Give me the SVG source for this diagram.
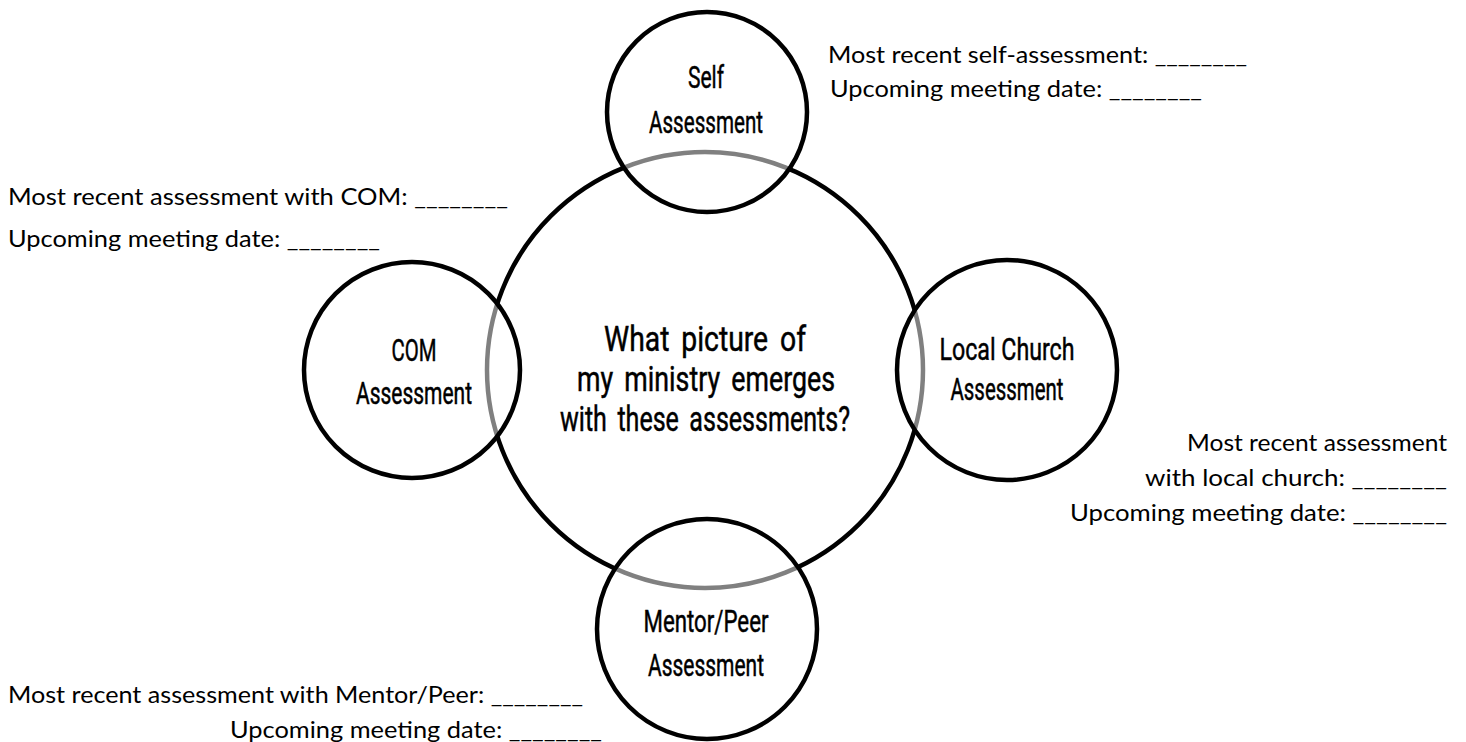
<svg xmlns="http://www.w3.org/2000/svg" width="1466" height="742" viewBox="0 0 1466 742">
<style>
.bg{fill:#ffffff}
.big{fill:none;stroke:#000;stroke-width:4.5}
.small{fill:#ffffff;fill-opacity:0.5;stroke:#000;stroke-width:4.5}
.ct{font-family:Roboto,"Liberation Sans",sans-serif;font-size:32px;font-weight:400;fill:#000;stroke:#000;stroke-width:0.5;text-anchor:middle}
.mt{font-family:Roboto,"Liberation Sans",sans-serif;font-size:35px;font-weight:400;fill:#000;stroke:#000;stroke-width:0.5;text-anchor:middle;word-spacing:6px}
.lb{font-family:Lato,"Open Sans","Liberation Sans",sans-serif;font-size:23px;fill:#000}
.r{text-anchor:end}
</style>
<rect class="bg" x="0" y="0" width="1466" height="742"/>
<g id="connectors"/>
<g id="center">
<circle class="big" cx="705" cy="370" r="218"/>
<text class="mt" x="705" y="351" textLength="202" lengthAdjust="spacingAndGlyphs">What picture of</text>
<text class="mt" x="706" y="391" textLength="258" lengthAdjust="spacingAndGlyphs">my ministry emerges</text>
<text class="mt" x="705" y="431" textLength="290" lengthAdjust="spacingAndGlyphs">with these assessments?</text>
</g>
<g id="self">
<circle class="small" cx="707" cy="112" r="100"/>
<text class="ct" x="706" y="88" textLength="36" lengthAdjust="spacingAndGlyphs">Self</text>
<text class="ct" x="706" y="133" textLength="114" lengthAdjust="spacingAndGlyphs">Assessment</text>
</g>
<g id="com">
<circle class="small" cx="412" cy="370" r="108"/>
<text class="ct" x="414" y="361" textLength="45" lengthAdjust="spacingAndGlyphs">COM</text>
<text class="ct" x="414" y="404" textLength="116" lengthAdjust="spacingAndGlyphs">Assessment</text>
</g>
<g id="local">
<circle class="small" cx="1007" cy="370" r="110"/>
<text class="ct" x="1007" y="360" textLength="135" lengthAdjust="spacingAndGlyphs">Local Church</text>
<text class="ct" x="1007" y="400" textLength="113" lengthAdjust="spacingAndGlyphs">Assessment</text>
</g>
<g id="mentor">
<circle class="small" cx="707" cy="629" r="110"/>
<text class="ct" x="706" y="632" textLength="125" lengthAdjust="spacingAndGlyphs">Mentor/Peer</text>
<text class="ct" x="706" y="676" textLength="116" lengthAdjust="spacingAndGlyphs">Assessment</text>
</g>
<g id="self-label">
<text class="lb" x="828" y="63" textLength="419" lengthAdjust="spacingAndGlyphs">Most recent self-assessment: ________</text>
<text class="lb" x="830" y="97" textLength="372" lengthAdjust="spacingAndGlyphs">Upcoming meeting date: ________</text>
</g>
<g id="com-label">
<text class="lb" x="8" y="205" textLength="500" lengthAdjust="spacingAndGlyphs">Most recent assessment with COM: ________</text>
<text class="lb" x="8" y="247" textLength="372" lengthAdjust="spacingAndGlyphs">Upcoming meeting date: ________</text>
</g>
<g id="local-label">
<text class="lb r" x="1447" y="451" textLength="260" lengthAdjust="spacingAndGlyphs">Most recent assessment</text>
<text class="lb r" x="1447" y="486" textLength="302" lengthAdjust="spacingAndGlyphs">with local church: ________</text>
<text class="lb r" x="1447" y="521" textLength="377" lengthAdjust="spacingAndGlyphs">Upcoming meeting date: ________</text>
</g>
<g id="mentor-label">
<text class="lb" x="8" y="703" textLength="575" lengthAdjust="spacingAndGlyphs">Most recent assessment with Mentor/Peer: ________</text>
<text class="lb" x="230" y="738" textLength="372" lengthAdjust="spacingAndGlyphs">Upcoming meeting date: ________</text>
</g>
</svg>
